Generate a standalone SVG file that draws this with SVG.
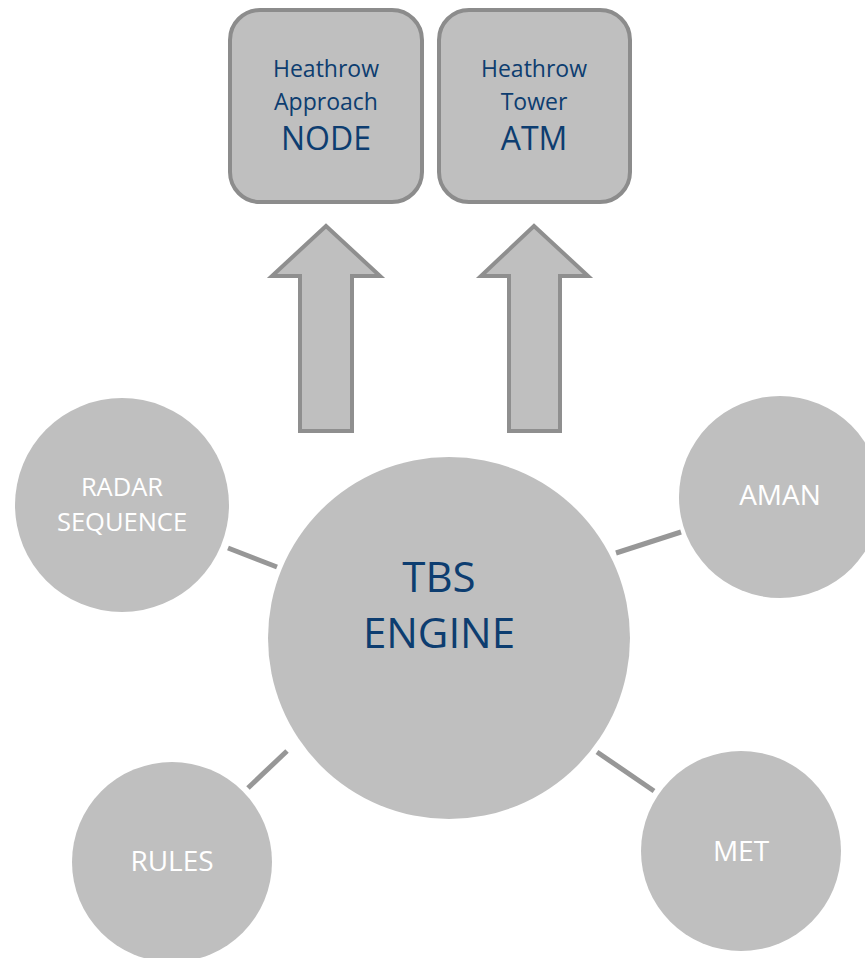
<svg xmlns="http://www.w3.org/2000/svg" width="865" height="958" viewBox="0 0 865 958">
<style>
.box{fill:#bfbfbf;stroke:#8c8c8c;stroke-width:4}
.arrow{fill:#bfbfbf;stroke:#8f8f8f;stroke-width:4;stroke-linejoin:miter}
.circ{fill:#bfbfbf}
.conn{stroke:#979797;stroke-width:5;fill:none}
.bt{font-family:"Open Sans","Liberation Sans",sans-serif;fill:#0d3d70;text-anchor:middle}
.wt{font-family:"Open Sans","Liberation Sans",sans-serif;fill:#ffffff;text-anchor:middle;font-size:28px}
.sm{font-size:23px}
.lg{font-size:32px}
</style>
<rect width="865" height="958" fill="#ffffff"/>
<g id="connectors">
<line class="conn" x1="228" y1="548" x2="277" y2="567"/>
<line class="conn" x1="616" y1="553" x2="681" y2="532"/>
<line class="conn" x1="248" y1="788" x2="287" y2="751"/>
<line class="conn" x1="597" y1="752" x2="654" y2="791"/>
</g>
<g id="node-approach">
<rect class="box" x="230" y="10" width="192" height="192" rx="30" ry="30"/>
<text class="bt sm" x="326" y="77">Heathrow</text>
<text class="bt sm" x="326" y="110">Approach</text>
<text class="bt lg" x="326" y="150">NODE</text>
</g>
<g id="node-tower">
<rect class="box" x="439" y="10" width="191" height="192" rx="30" ry="30"/>
<text class="bt sm" x="534" y="77">Heathrow</text>
<text class="bt sm" x="534" y="110">Tower</text>
<text class="bt lg" x="534" y="150">ATM</text>
</g>
<g id="arrow-left">
<polygon class="arrow" points="326,226 380,276 352,276 352,431 300,431 300,276 272,276"/>
</g>
<g id="arrow-right">
<polygon class="arrow" points="534,226 588,276 560,276 560,431 509,431 509,276 481,276"/>
</g>
<g id="tbs-engine">
<circle class="circ" cx="449" cy="638" r="181"/>
<text class="bt" x="439" y="592" font-size="42">TBS</text>
<text class="bt" x="439" y="648" font-size="42">ENGINE</text>
</g>
<g id="radar-sequence">
<circle class="circ" cx="122" cy="505" r="107"/>
<text class="wt" x="122" y="496" font-size="25.5px" style="font-size:25.5px">RADAR</text>
<text class="wt" x="122" y="531" style="font-size:25.5px">SEQUENCE</text>
</g>
<g id="aman">
<circle class="circ" cx="780" cy="497" r="101"/>
<text class="wt" x="780" y="505">AMAN</text>
</g>
<g id="rules">
<circle class="circ" cx="172" cy="862" r="100"/>
<text class="wt" x="172" y="871">RULES</text>
</g>
<g id="met">
<circle class="circ" cx="741" cy="851" r="100"/>
<text class="wt" x="741" y="861">MET</text>
</g>
</svg>
